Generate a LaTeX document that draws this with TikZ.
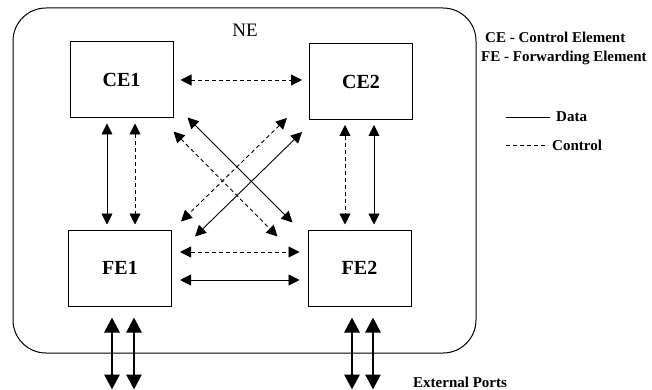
\documentclass[tikz,border=0pt]{standalone}
\usepackage{fontspec}
\setmainfont{Liberation Serif}
\usetikzlibrary{arrows.meta}
\begin{document}
\begin{tikzpicture}[x=1pt,y=-1pt,
  elem/.style={draw, line width=1pt, minimum width=103pt, minimum height=76pt, inner sep=0pt, font=\fontsize{20}{22}\selectfont\bfseries},
  conn/.style={line width=0.9pt, {Triangle[length=11pt,width=11pt]}-{Triangle[length=11pt,width=11pt]}},
  ctrl/.style={conn, dash pattern=on 4pt off 3pt},
  port/.style={line width=2.8pt, {Triangle[length=15pt,width=15pt]}-{Triangle[length=15pt,width=15pt]}},
  legtext/.style={anchor=west, inner sep=0pt, font=\fontsize{15}{17}\selectfont\bfseries}]
\useasboundingbox (0,0) rectangle (652,390);
\node[draw, line width=1pt, rounded corners=33pt, minimum width=463pt, minimum height=345pt, inner sep=0pt] (NEbox) at (244.5,180.5) {};
\node[font=\fontsize{19}{21}\selectfont] (NE) at (245,30) {NE};
\node[elem] (CE1) at (121.5,80) {CE1};
\node[elem] (CE2) at (361,81.5) {CE2};
\node[elem] (FE1) at (120,268) {FE1};
\node[elem] (FE2) at (359.5,268) {FE2};
% horizontal
\draw[ctrl] ([xshift=7pt]CE1.east) -- ([xshift=-7pt]CE1.east -| CE2.west);
\draw[ctrl] ([shift={(8,-16)}]FE1.east) -- ([shift={(-8,-16)}]FE2.west);
\draw[conn] ([shift={(8,12)}]FE1.east) -- ([shift={(-8,12)}]FE2.west);
% vertical
\draw[conn] ([shift={(-14.5,5)}]CE1.south) -- ([shift={(-13,-5)}]FE1.north);
\draw[ctrl] ([shift={(13.5,5)}]CE1.south) -- ([shift={(15,-5)}]FE1.north);
\draw[ctrl] ([shift={(-16,5)}]CE2.south) -- ([shift={(-14.5,-5)}]FE2.north);
\draw[conn] ([shift={(13,5)}]CE2.south) -- ([shift={(14.5,-5)}]FE2.north);
% diagonals
\draw[conn] ([shift={(14,-1)}]CE1.south east) -- ([shift={(-15,-7)}]FE2.north west);
\draw[ctrl] ([shift={(0,13)}]CE1.south east) -- ([shift={(-30,7)}]FE2.north west);
\draw[ctrl] ([shift={(-22,-2)}]CE2.south west) -- ([shift={(9,-8)}]FE1.north east);
\draw[conn] ([shift={(-7,12)}]CE2.south west) -- ([shift={(23,7)}]FE1.north east);
% external ports
\draw[port] ([shift={(-8,11)}]FE1.south) -- ++(0,72);
\draw[port] ([shift={(14,11)}]FE1.south) -- ++(0,72);
\draw[port] ([shift={(-7.5,11)}]FE2.south) -- ++(0,72);
\draw[port] ([shift={(13.5,11)}]FE2.south) -- ++(0,72);
\node[legtext] (ext) at (413,382) {External Ports};
% legend
\node[legtext] (lce) at (485,37) {CE - Control Element};
\node[legtext] (lfe) at (481,58) {FE - Forwarding Element};
\coordinate (dA) at (506,117);
\coordinate (dB) at (550,117);
\draw[line width=0.9pt] (dA) -- (dB);
\node[legtext] (ldata) at (556,117) {Data};
\coordinate (cA) at (506,145);
\coordinate (cB) at (548,145);
\draw[line width=0.9pt, dash pattern=on 4pt off 3pt] (cA) -- (cB);
\node[legtext] (lctrl) at (552,145) {Control};
\end{tikzpicture}
\end{document}
